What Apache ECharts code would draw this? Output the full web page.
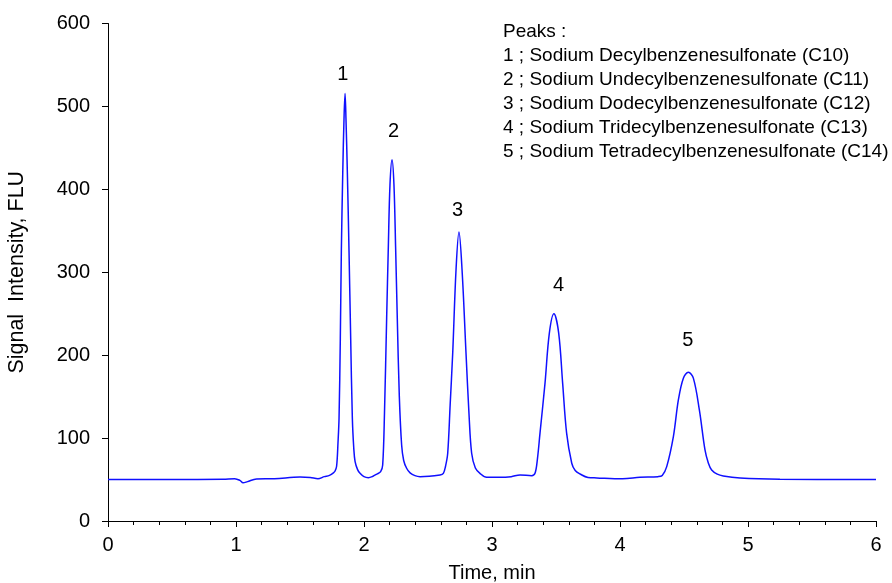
<!DOCTYPE html>
<html>
<head>
<meta charset="utf-8">
<script src="https://cdn.jsdelivr.net/npm/echarts@6/dist/echarts.min.js"></script>
<style>
  html, body { margin: 0; padding: 0; background: #fff; }
</style>
</head>
<body>
<div id="chart" style="width: 892px;height: 583px"></div>
<script>
  // retention time (min) and fluorescence signal
  var timeMin = [
    0.00, 0.50, 0.90, 0.99, 1.03, 1.055, 1.09, 1.16, 1.30, 1.50, 1.58, 1.64, 1.69, 1.73, 1.76,
    1.773, 1.786, 1.797, 1.805, 1.815, 1.823, 1.834, 1.844, 1.852, 1.859, 1.870, 1.883, 1.896, 1.909, 1.920, 1.930, 1.950, 1.969,
    2.000, 2.034, 2.070, 2.100, 2.130,
    2.146, 2.160, 2.177, 2.190, 2.203, 2.219, 2.234, 2.247, 2.260, 2.276, 2.294, 2.310, 2.333, 2.360, 2.398,
    2.438, 2.594, 2.620,
    2.637, 2.654, 2.673, 2.693, 2.719, 2.742, 2.766, 2.797, 2.820, 2.841, 2.870, 2.906, 2.958,
    3.060, 3.150, 3.219, 3.310,
    3.336, 3.355, 3.375, 3.414, 3.448, 3.484, 3.521, 3.552, 3.583, 3.623, 3.650, 3.688, 3.750,
    3.818, 4.020, 4.156, 4.297, 4.330,
    4.365, 4.417, 4.456, 4.495, 4.534, 4.573, 4.620, 4.664, 4.690, 4.716, 4.760, 4.807, 4.938,
    5.250, 6.000
  ];
  var signalFLU = [
    50, 50, 50.5, 51, 49, 46, 47.5, 50.7, 51, 53, 52.5, 51, 53.5, 55, 58,
    60, 66, 95, 124, 220, 325, 420, 486, 515.5, 486, 420, 325, 220, 124, 88, 72, 62, 57.6,
    53.5, 52.3, 54, 56.5, 59.5,
    67.6, 130, 244.7, 330, 405.6, 435.8, 405.6, 330, 244.7, 150, 91.7, 73, 63.6, 58, 54.7,
    53.5, 55.5, 57.5,
    66, 81.7, 140, 202.4, 303, 348.5, 303, 202.4, 130, 81.7, 64, 57.5, 52.7,
    52.7, 53.5, 55.5, 54.7,
    57.5, 75, 105.9, 166, 226.6, 249.9, 226.6, 166, 105.9, 69.7, 61, 56.7, 52.5,
    52, 51, 52.7, 53.5, 55,
    65.6, 101.8, 146, 172.3, 179.5, 172.3, 134, 85.7, 70, 61.6, 56.5, 54.3, 52,
    50.5, 50
  ];

  // peak number labels (placed in data units above each peak)
  var peakIds = ['1', '2', '3', '4', '5'];
  var peakLabelTime = [1.835, 2.23, 2.73, 3.52, 4.53];
  var peakLabelValue = [538, 470, 375, 284, 218];

  var peakNames = [
    'Sodium Decylbenzenesulfonate (C10)',
    'Sodium Undecylbenzenesulfonate (C11)',
    'Sodium Dodecylbenzenesulfonate (C12)',
    'Sodium Tridecylbenzenesulfonate (C13)',
    'Sodium Tetradecylbenzenesulfonate (C14)'
  ];

  var xTicks = [0, 1, 2, 3, 4, 5, 6];
  var yTicks = [0, 100, 200, 300, 400, 500, 600];

  var font = 'Liberation Sans, Arial, sans-serif';

  var lineData = timeMin.map(function (t, i) { return [t, signalFLU[i]]; });
  var labelData = peakIds.map(function (id, i) {
    return { name: id, value: [peakLabelTime[i], peakLabelValue[i]] };
  });
  var legendText = 'Peaks :\n' + peakNames.map(function (n, i) {
    return peakIds[i] + ' ; ' + n;
  }).join('\n');

  var chart = echarts.init(document.getElementById('chart'));
  var option = {
    animation: false,
    backgroundColor: '#fff',
    title: {
      text: legendText,
      left: 503,
      top: 20,
      padding: 0,
      textStyle: {
        fontFamily: font,
        fontSize: 19,
        fontWeight: 'normal',
        color: '#000',
        lineHeight: 24
      }
    },
    grid: {
      left: 108, right: 16, top: 23.5, bottom: 62,
      containLabel: false,
      outerBoundsMode: 'none'  // keep the plot box where it is
    },
    xAxis: {
      type: 'value',
      min: xTicks[0],
      max: xTicks[xTicks.length - 1],
      interval: 1,
      name: 'Time, min',
      nameLocation: 'middle',
      nameGap: 42,
      nameTextStyle: { fontFamily: font, fontSize: 20, color: '#000' },
      axisLine: { lineStyle: { color: '#000', width: 1 } },
      axisTick: { show: true, inside: false, length: 6, lineStyle: { color: '#000' } },
      minorTick: { show: true, splitNumber: 5, length: 4, lineStyle: { color: '#000' } },
      axisLabel: { fontFamily: font, fontSize: 20, color: '#000', margin: 14 },
      splitLine: { show: false }
    },
    yAxis: {
      type: 'value',
      min: yTicks[0],
      max: yTicks[yTicks.length - 1],
      interval: 100,
      name: 'Signal  Intensity, FLU',
      nameLocation: 'middle',
      nameGap: 80,
      nameTextStyle: { fontFamily: font, fontSize: 21.5, color: '#000' },
      axisLine: { show: true, lineStyle: { color: '#000', width: 1 } },
      axisTick: { show: true, inside: false, length: 6, lineStyle: { color: '#000' } },
      axisLabel: { fontFamily: font, fontSize: 20, color: '#000', margin: 18 },
      splitLine: { show: false }
    },
    series: [
      {
        type: 'line',
        data: lineData,
        showSymbol: false,
        smooth: 0.35,
        lineStyle: { color: '#1010ff', width: 1.5 },
        silent: true
      },
      {
        type: 'scatter',
        data: labelData,
        symbolSize: 0,
        silent: true,
        itemStyle: { opacity: 1, color: 'transparent' },  // scatter is 0.8 by default, which greys the labels
        label: {
          show: true,
          position: 'inside',
          formatter: '{b}',
          fontFamily: font,
          fontSize: 20,
          color: '#000',
          textBorderWidth: 0
        }
      }
    ]
  };
  chart.setOption(option, true);
</script>
</body>
</html>
